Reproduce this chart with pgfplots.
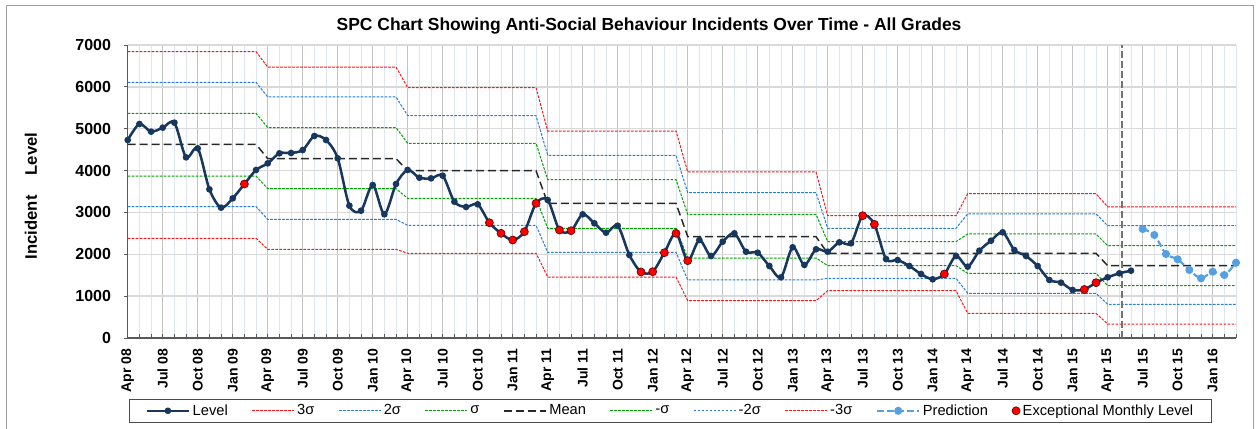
\documentclass[border=0pt]{standalone}
\usepackage{fontspec}
\setmainfont{Liberation Sans}
\usepackage{pgfplots}
\usepackage{pgfplotstable}
\pgfplotsset{compat=1.18}
\definecolor{navy}{RGB}{23,55,94}
\definecolor{sigred}{RGB}{255,20,20}
\definecolor{sigblue}{RGB}{40,125,215}
\definecolor{siggreen}{RGB}{0,160,0}
\definecolor{meangray}{RGB}{40,40,40}
\definecolor{predblue}{RGB}{85,160,225}
\definecolor{gridmaj}{RGB}{195,195,195}
\definecolor{gridmin}{RGB}{220,229,240}
\definecolor{gridh}{RGB}{217,217,217}
\definecolor{exred}{RGB}{255,0,0}

\pgfplotstableread{
x p3 p2 p1 m n1 n2 n3
0  6840 6109 5368 4627 3870 3137 2382
11 6840 6109 5368 4627 3870 3137 2382
12 6474 5758 5025 4284 3567 2835 2119
23 6474 5758 5025 4284 3567 2835 2119
24 5980 5311 4651 3997 3337 2692 2024
35 5980 5311 4651 3997 3337 2692 2024
36 4945 4365 3783 3217 2621 2047 1457
47 4945 4365 3783 3217 2621 2047 1457
48 3966 3471 2955 2420 1911 1386 891
59 3966 3471 2955 2420 1911 1386 891
60 2922 2621 2301 2024 1728 1426 1130
71 2922 2621 2301 2024 1728 1426 1130
72 3448 2966 2485 2024 1545 1068 590
83 3448 2966 2485 2024 1545 1068 590
84 3134 2683 2205 1728 1250 805 334
95 3134 2683 2205 1728 1250 805 334
}\limits

\pgfplotstableread{
x y
0 4730
1 5113
2 4930
3 5025
4 5145
5 4316
6 4531
7 3552
8 3114
9 3337
10 3679
11 4014
12 4173
13 4412
14 4420
15 4491
16 4826
17 4730
18 4293
19 3161
20 3041
21 3655
22 2955
23 3679
24 4014
25 3830
26 3814
27 3878
28 3256
29 3130
30 3194
31 2755
32 2501
33 2341
34 2540
35 3218
36 3297
37 2580
38 2564
39 2955
40 2740
41 2516
42 2683
43 1983
44 1578
45 1584
46 2038
47 2501
48 1847
49 2341
50 1959
51 2301
52 2501
53 2062
54 2038
55 1720
56 1450
57 2167
58 1744
59 2119
60 2062
61 2286
62 2262
63 2922
64 2716
65 1887
66 1863
67 1720
68 1529
69 1402
70 1529
71 1959
72 1704
73 2086
74 2325
75 2525
76 2102
77 1959
78 1720
79 1386
80 1322
81 1147
82 1160
83 1322
84 1450
85 1545
86 1608
}\level

\pgfplotstableread{
x y
87 2604
88 2461
89 2007
90 1880
91 1625
92 1426
93 1584
94 1505
95 1799
}\prediction

\pgfplotstableread{
x y
10 3679
31 2755
32 2501
33 2341
34 2540
35 3218
37 2580
38 2564
44 1578
45 1584
46 2038
47 2501
48 1847
63 2922
64 2716
70 1529
82 1160
83 1322
}\exceptional

\begin{document}
\begin{tikzpicture}
\path[use as bounding box] (0,0) rectangle (944.25pt,321pt);
\draw[color=gray!75, line width=0.8pt] (5pt,-10pt) rectangle (940pt,317pt);
\begin{axis}[
  at={(95.8pt,67.5pt)}, anchor=south west,
  width=831.2pt, height=219.75pt, scale only axis,
  xmin=0, xmax=95, ymin=0, ymax=7000,
  axis x line*=bottom, axis y line*=left,
  axis line style={color=gray!70!black, line width=0.8pt},
  xtick={0,3,...,93},
  xticklabels={Apr 08,Jul 08,Oct 08,Jan 09,Apr 09,Jul 09,Oct 09,Jan 10,Apr 10,Jul 10,Oct 10,Jan 11,Apr 11,Jul 11,Oct 11,Jan 12,Apr 12,Jul 12,Oct 12,Jan 13,Apr 13,Jul 13,Oct 13,Jan 14,Apr 14,Jul 14,Oct 14,Jan 15,Apr 15,Jul 15,Oct 15,Jan 16},
  minor xtick={0,...,95},
  ytick={0,1000,...,7000},
  yticklabels={0,1000,2000,3000,4000,5000,6000,7000},
  xtick align=inside, ytick align=outside,
  major tick length=3pt, minor tick length=3pt,
  tick style={color=gray!70!black, line width=0.6pt},
  xmajorgrids, xminorgrids, ymajorgrids,
  x grid style={color=gridmaj, line width=0.9pt},
  minor x grid style={color=gridmin, line width=0.7pt},
  y grid style={color=gridh, line width=1.1pt},
  xticklabel style={rotate=90, anchor=east, font=\bfseries\fontsize{10.5}{12}\selectfont},
  yticklabel style={font=\bfseries\fontsize{12}{14}\selectfont},
  xticklabel shift=4.5pt,
  yticklabel shift=6pt,
  title={SPC Chart Showing Anti-Social Behaviour Incidents Over Time - All Grades},
  title style={at={(0.4704,1.068)}, anchor=center, yshift=-6.5pt, font=\bfseries\fontsize{13.1}{15}\selectfont},
  ylabel={Incident\hspace{1.2em}Level},
  ylabel style={at={(-0.0873,0.4846)}, anchor=center, font=\bfseries\fontsize{12.5}{14}\selectfont},
  legend columns=10,
  legend cell align=left,
  legend image code/.code={\draw[mark repeat=2,mark phase=2,#1] plot coordinates {(0cm,0cm) (0.55cm,0cm) (1.1cm,0cm)};},
  legend style={at={(0.490,-0.2485)}, anchor=center, draw=gray!60!black, line width=0.8pt,
    font=\fontsize{11}{13}\selectfont, inner ysep=2pt, inner xsep=12pt,
    /tikz/every even column/.append style={column sep=16pt}},
]
% legend entries
\addlegendimage{navy, line width=1.9pt, mark=*, mark size=1.5pt}
\addlegendentry{Level}
\addlegendimage{sigred, line width=0.75pt, dash pattern=on 2pt off 1pt}
\addlegendentry{3σ}
\addlegendimage{sigblue, line width=0.75pt, dash pattern=on 2pt off 1pt}
\addlegendentry{2σ}
\addlegendimage{siggreen, line width=0.75pt, dash pattern=on 2pt off 1pt}
\addlegendentry{σ}
\addlegendimage{meangray, line width=1.1pt, dash pattern=on 6pt off 3pt}
\addlegendentry{Mean}
\addlegendimage{siggreen, line width=0.75pt, dash pattern=on 2pt off 1pt}
\addlegendentry{-σ}
\addlegendimage{sigblue, line width=0.75pt, dash pattern=on 2pt off 1pt}
\addlegendentry{-2σ}
\addlegendimage{sigred, line width=0.75pt, dash pattern=on 2pt off 1pt}
\addlegendentry{-3σ}
\addlegendimage{predblue, line width=1.6pt, dash pattern=on 5pt off 2.5pt, mark=*, mark size=2.2pt, mark options={solid}}
\addlegendentry{Prediction}
\addlegendimage{only marks, mark=*, mark size=3pt, mark options={fill=exred, draw=red!40!black, line width=0.5pt}}
\addlegendentry{Exceptional Monthly Level}
% limits
\addplot[forget plot, sigred, line width=0.75pt, dash pattern=on 2pt off 1pt] table[x=x,y=p3] {\limits};
\addplot[forget plot, sigblue, line width=0.75pt, dash pattern=on 2pt off 1pt] table[x=x,y=p2] {\limits};
\addplot[forget plot, siggreen, line width=0.75pt, dash pattern=on 2pt off 1pt] table[x=x,y=p1] {\limits};
\addplot[forget plot, meangray, line width=1.1pt, dash pattern=on 6pt off 3pt] table[x=x,y=m] {\limits};
\addplot[forget plot, siggreen, line width=0.75pt, dash pattern=on 2pt off 1pt] table[x=x,y=n1] {\limits};
\addplot[forget plot, sigblue, line width=0.75pt, dash pattern=on 2pt off 1pt] table[x=x,y=n2] {\limits};
\addplot[forget plot, sigred, line width=0.75pt, dash pattern=on 2pt off 1pt] table[x=x,y=n3] {\limits};
% divider
\addplot[forget plot, color=gray!90!black, line width=1.5pt, dash pattern=on 5pt off 2.5pt] coordinates {(85.2,0) (85.2,7000)};
% level
\addplot[forget plot, navy, line width=1.9pt, smooth, mark=*, mark size=1.5pt] table[x=x,y=y] {\level};
% prediction
\addplot[forget plot, predblue, line width=1.6pt, smooth, dash pattern=on 5pt off 2.5pt, mark=*, mark size=2.2pt, mark options={solid}] table[x=x,y=y] {\prediction};
% exceptional
\addplot[forget plot, only marks, mark=*, mark size=3pt, mark options={fill=exred, draw=red!40!black, line width=0.5pt}] table[x=x,y=y] {\exceptional};
\end{axis}
\end{tikzpicture}
\end{document}
